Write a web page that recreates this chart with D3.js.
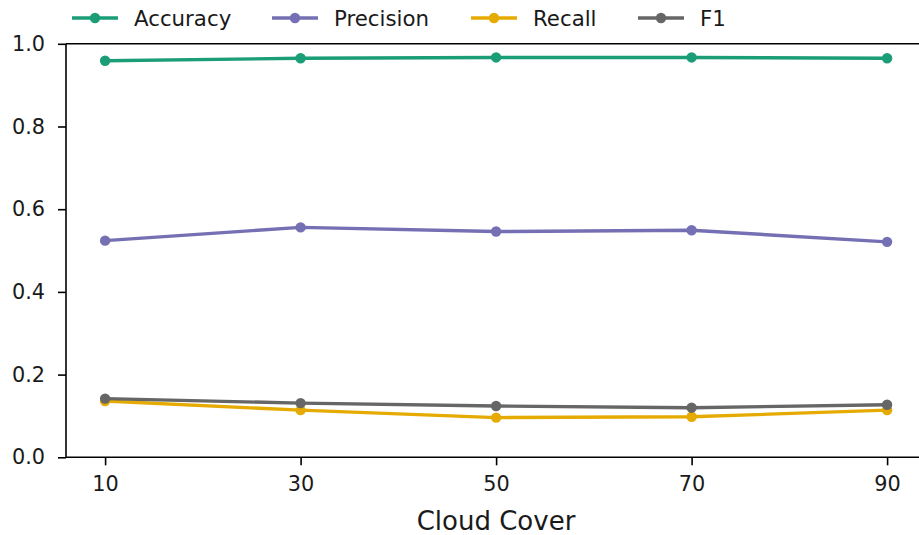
<!DOCTYPE html>
<html>
<head>
<meta charset="utf-8">
<script src="https://cdn.jsdelivr.net/npm/d3@7"></script>
<style>
  body { margin: 0; background: #fff; }
  svg { display: block; font-family: "DejaVu Sans", sans-serif; }
</style>
</head>
<body>
<svg id="chart" width="919" height="535"></svg>
<script>
var cloudCover = [10, 30, 50, 70, 90];
var accuracy  = [0.959, 0.965, 0.967, 0.967, 0.965];
var precision = [0.524, 0.556, 0.546, 0.549, 0.521];
var recall    = [0.136, 0.114, 0.096, 0.098, 0.114];
var f1        = [0.142, 0.131, 0.124, 0.120, 0.127];
var seriesNames = ["Accuracy", "Precision", "Recall", "F1"];
var yTicks = [0, 0.2, 0.4, 0.6, 0.8, 1.0];

var colors = ["#1b9e77", "#7570b3", "#e6ab02", "#666666"];
var seriesValues = [accuracy, precision, recall, f1];

function drawChart() {
  var svg = d3.select("#chart");

  var plotLeft = 66, plotTop = 43.8, plotBottom = 457.3;

  var x = d3.scaleLinear().domain([6, 94]).range([plotLeft, plotLeft + 88 * 9.775]);
  var y = d3.scaleLinear().domain([0, 1]).range([plotBottom, plotTop]);

  // top spine
  svg.append("line").attr("x1", plotLeft).attr("x2", 919).attr("y1", plotTop).attr("y2", plotTop)
    .attr("stroke", "#000").attr("stroke-width", 1.6);

  var yAxis = svg.append("g")
    .attr("transform", "translate(" + plotLeft + ",0)")
    .call(d3.axisLeft(y).tickValues(yTicks).tickFormat(d3.format(".1f")).tickSize(8).tickPadding(13));

  var xAxis = svg.append("g")
    .attr("transform", "translate(0," + plotBottom + ")")
    .call(d3.axisBottom(x).tickValues(cloudCover).tickSize(8).tickPadding(11));

  yAxis.select(".domain").attr("d", "M0," + plotBottom + "V" + plotTop);
  xAxis.select(".domain").attr("d", "M" + plotLeft + ",0H919");

  [yAxis, xAxis].forEach(function(g) {
    g.select(".domain").attr("stroke", "#000").attr("stroke-width", 1.6);
    g.selectAll(".tick line").attr("stroke", "#000").attr("stroke-width", 1.6);
    g.selectAll(".tick text").attr("fill", "#1a1a1a").style("font-size", "20.8px")
      .style("font-family", "DejaVu Sans");
  });

  svg.append("text")
    .attr("x", 496).attr("y", 530)
    .attr("text-anchor", "middle")
    .style("font-size", "26px")
    .attr("fill", "#1a1a1a")
    .text("Cloud Cover");

  // lines
  var line = d3.line()
    .x(function(d, i) { return x(cloudCover[i]); })
    .y(function(d) { return y(d); });

  seriesValues.forEach(function(vals, s) {
    svg.append("path")
      .datum(vals)
      .attr("d", line)
      .attr("fill", "none")
      .attr("stroke", colors[s])
      .attr("stroke-width", 3.4);

    svg.selectAll(".pt" + s)
      .data(vals)
      .enter().append("circle")
      .attr("class", "pt" + s)
      .attr("cx", function(d, i) { return x(cloudCover[i]); })
      .attr("cy", function(d) { return y(d); })
      .attr("r", 5.2)
      .attr("fill", colors[s]);
  });

  // legend
  var legendX = [72, 272, 471, 638];
  seriesNames.forEach(function(name, s) {
    var g = svg.append("g").attr("transform", "translate(" + legendX[s] + ",18)");
    g.append("line").attr("x1", 0).attr("x2", 46).attr("y1", 0).attr("y2", 0)
      .attr("stroke", colors[s]).attr("stroke-width", 3.4);
    g.append("circle").attr("cx", 23).attr("cy", 0).attr("r", 5.2).attr("fill", colors[s]);
    g.append("text").attr("x", 62).attr("y", 7.7)
      .style("font-size", "21.3px").attr("fill", "#1a1a1a").text(name);
  });
}

drawChart();
</script>
</body>
</html>
